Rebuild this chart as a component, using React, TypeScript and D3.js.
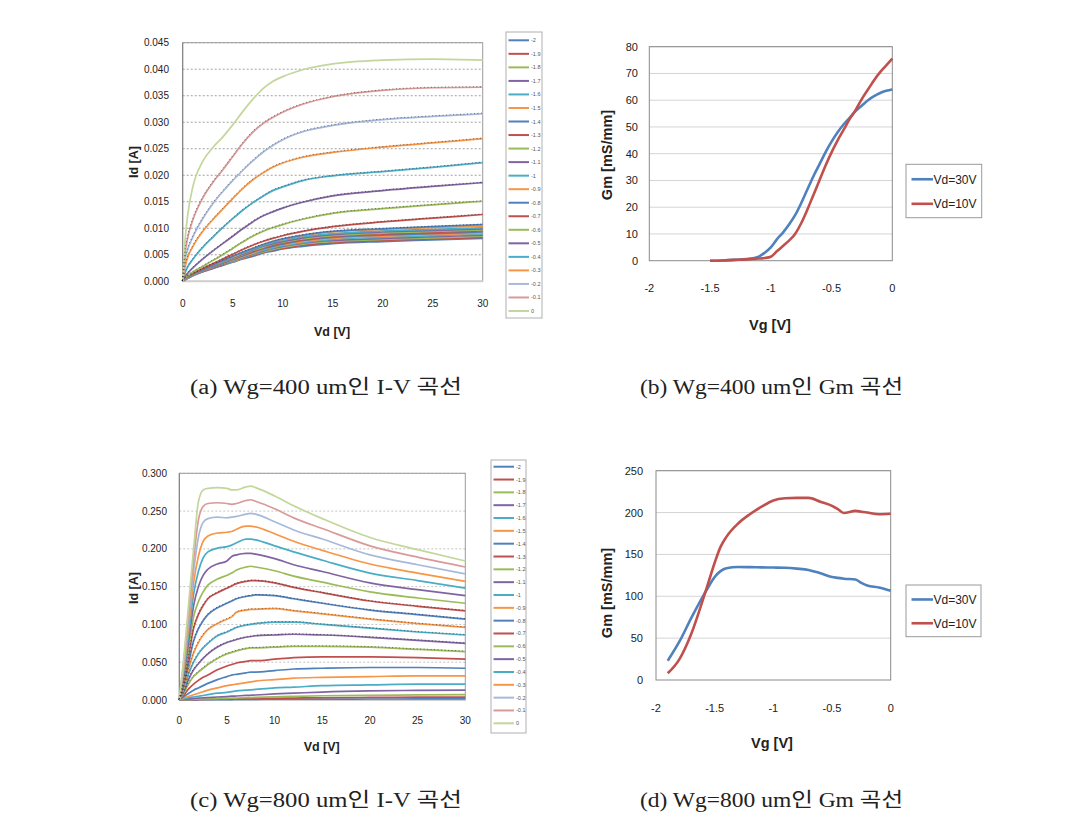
import React from 'react';
import * as d3 from 'd3';

// ---------------- data ----------------
const vgLabels = ['-2', '-1.9', '-1.8', '-1.7', '-1.6', '-1.5', '-1.4', '-1.3', '-1.2', '-1.1', '-1', '-0.9', '-0.8', '-0.7', '-0.6', '-0.5', '-0.4', '-0.3', '-0.2', '-0.1', '0'];
const ivColors = ['#4F81BD', '#C0504D', '#9BBB59', '#8064A2', '#4BACC6', '#F79646', '#4F81BD', '#C0504D', '#9BBB59', '#8064A2', '#4BACC6', '#F79646', '#4F81BD', '#C0504D', '#9BBB59', '#8064A2', '#4BACC6', '#F79646', '#A7B9DA', '#D99A98', '#C3D69B'];

// (a) Wg=400um I-V : Vd grid and Id per Vg (A)
const vdA = [0, 0.25, 0.5, 1, 2, 3, 4, 5, 6, 7, 8, 9, 10, 12, 15, 20, 25, 30];
const a_m20 = [0, 0.0003, 0.0006, 0.001, 0.0018, 0.0024, 0.003, 0.0036, 0.0042, 0.0047, 0.0053, 0.0057, 0.0061, 0.0066, 0.0071, 0.0075, 0.0078, 0.0081];
const a_m19 = [0, 0.0003, 0.0006, 0.0011, 0.0018, 0.0025, 0.0031, 0.0037, 0.0043, 0.0049, 0.0054, 0.0059, 0.0062, 0.0068, 0.0073, 0.0077, 0.008, 0.0083];
const a_m18 = [0, 0.0004, 0.0006, 0.0011, 0.0019, 0.0026, 0.0032, 0.0037, 0.0044, 0.005, 0.0055, 0.006, 0.0064, 0.007, 0.0075, 0.0079, 0.0082, 0.0085];
const a_m17 = [0, 0.0004, 0.0006, 0.0011, 0.0019, 0.0026, 0.0032, 0.0038, 0.0045, 0.0051, 0.0057, 0.0062, 0.0066, 0.0072, 0.0077, 0.0081, 0.0084, 0.0087];
const a_m16 = [0, 0.0004, 0.0006, 0.0011, 0.002, 0.0027, 0.0033, 0.0039, 0.0046, 0.0052, 0.0058, 0.0063, 0.0067, 0.0073, 0.0079, 0.0083, 0.0086, 0.0089];
const a_m15 = [0, 0.0004, 0.0007, 0.0012, 0.002, 0.0027, 0.0034, 0.004, 0.0047, 0.0053, 0.006, 0.0065, 0.0069, 0.0075, 0.0081, 0.0085, 0.0088, 0.0091];
const a_m14 = [0, 0.0004, 0.0007, 0.0012, 0.002, 0.0028, 0.0034, 0.0041, 0.0048, 0.0055, 0.0061, 0.0066, 0.007, 0.0077, 0.0083, 0.0087, 0.009, 0.0093];
const a_m13 = [0, 0.0004, 0.0007, 0.0012, 0.0021, 0.0028, 0.0035, 0.0042, 0.0049, 0.0056, 0.0063, 0.0068, 0.0072, 0.0078, 0.0085, 0.0089, 0.0092, 0.0095];
const a_m12 = [0, 0.0004, 0.0007, 0.0012, 0.0021, 0.0029, 0.0036, 0.0043, 0.005, 0.0058, 0.0064, 0.007, 0.0074, 0.008, 0.0086, 0.0091, 0.0094, 0.0097];
const a_m11 = [0, 0.0004, 0.0007, 0.0013, 0.0022, 0.0029, 0.0037, 0.0044, 0.0051, 0.0059, 0.0066, 0.0071, 0.0075, 0.0082, 0.0088, 0.0093, 0.0096, 0.0099];
const a_m10 = [0, 0.0004, 0.0008, 0.0013, 0.0022, 0.003, 0.0037, 0.0045, 0.0053, 0.006, 0.0067, 0.0073, 0.0077, 0.0084, 0.009, 0.0095, 0.0098, 0.0101];
const a_m09 = [0, 0.0004, 0.0008, 0.0013, 0.0023, 0.0031, 0.0039, 0.0046, 0.0054, 0.0062, 0.0069, 0.0075, 0.0079, 0.0086, 0.0093, 0.0098, 0.0101, 0.0104];
const a_m08 = [0, 0.0005, 0.0008, 0.0013, 0.0022, 0.0031, 0.0039, 0.0047, 0.0055, 0.0062, 0.0069, 0.0075, 0.008, 0.0087, 0.0094, 0.0099, 0.0103, 0.0107];
const a_m07 = [0, 0.0005, 0.0009, 0.0014, 0.0024, 0.0033, 0.0042, 0.0051, 0.006, 0.0068, 0.0075, 0.0081, 0.0086, 0.0094, 0.0103, 0.0112, 0.0119, 0.0126];
const a_m06 = [0, 0.0006, 0.001, 0.0017, 0.0028, 0.0039, 0.005, 0.0062, 0.0074, 0.0085, 0.0094, 0.0101, 0.0107, 0.0117, 0.0128, 0.0137, 0.0144, 0.0151];
const a_m05 = [0, 0.0009, 0.0015, 0.0025, 0.0042, 0.0057, 0.0071, 0.0085, 0.0099, 0.0112, 0.0123, 0.0131, 0.0138, 0.0149, 0.0161, 0.0171, 0.0179, 0.0186];
const a_m04 = [0, 0.0016, 0.0027, 0.0041, 0.0064, 0.0083, 0.0101, 0.0118, 0.0134, 0.0148, 0.016, 0.0171, 0.0178, 0.019, 0.0199, 0.0207, 0.0215, 0.0224];
const a_m03 = [0, 0.0028, 0.0045, 0.0065, 0.0094, 0.0116, 0.0136, 0.0156, 0.0175, 0.0191, 0.0204, 0.0215, 0.0223, 0.0234, 0.0243, 0.0253, 0.0261, 0.0269];
const a_m02 = [0, 0.0042, 0.006, 0.0083, 0.0118, 0.0146, 0.0169, 0.019, 0.0209, 0.0227, 0.0243, 0.0256, 0.0267, 0.0282, 0.0294, 0.0305, 0.0311, 0.0316];
const a_m01 = [0, 0.0055, 0.0082, 0.0115, 0.0157, 0.0186, 0.021, 0.0235, 0.026, 0.0281, 0.0297, 0.0309, 0.0319, 0.0334, 0.0348, 0.036, 0.0365, 0.0366];
const a_000 = [0, 0.008, 0.0125, 0.0177, 0.0226, 0.0252, 0.0272, 0.0295, 0.032, 0.0343, 0.0363, 0.0377, 0.0386, 0.0399, 0.041, 0.0417, 0.0419, 0.0417];
const idA = [a_m20, a_m19, a_m18, a_m17, a_m16, a_m15, a_m14, a_m13, a_m12, a_m11, a_m10, a_m09, a_m08, a_m07, a_m06, a_m05, a_m04, a_m03, a_m02, a_m01, a_000];
const yTicksA = [0, 0.005, 0.01, 0.015, 0.02, 0.025, 0.03, 0.035, 0.04, 0.045];
const xTicksIV = [0, 5, 10, 15, 20, 25, 30];

// (c) Wg=800um I-V
const vdC = [0, 0.5, 1, 1.5, 2, 2.5, 3, 4, 5, 5.5, 6, 7, 7.5, 8, 10, 12, 15, 20, 25, 30];
const c_m20 = [0, 0.0001, 0.0002, 0.0002, 0.0003, 0.0003, 0.0004, 0.0005, 0.0006, 0.0006, 0.0007, 0.0008, 0.0008, 0.0009, 0.001, 0.0011, 0.0012, 0.0013, 0.0014, 0.0015];
const c_m19 = [0, 0.0002, 0.0004, 0.0005, 0.0006, 0.0007, 0.0008, 0.001, 0.0012, 0.0013, 0.0014, 0.0016, 0.0017, 0.0018, 0.0022, 0.0026, 0.003, 0.0034, 0.0037, 0.0039];
const c_m18 = [0, 0.0004, 0.0007, 0.001, 0.0012, 0.0014, 0.0016, 0.0019, 0.0022, 0.0024, 0.0026, 0.003, 0.0032, 0.0034, 0.0041, 0.0048, 0.0056, 0.0063, 0.0067, 0.007];
const c_m17 = [0, 0.0008, 0.0015, 0.002, 0.0025, 0.003, 0.0033, 0.004, 0.0045, 0.005, 0.0053, 0.006, 0.0063, 0.0066, 0.008, 0.009, 0.0105, 0.012, 0.0127, 0.013];
const c_m16 = [0, 0.0015, 0.003, 0.004, 0.005, 0.006, 0.007, 0.009, 0.01, 0.011, 0.012, 0.013, 0.0135, 0.014, 0.016, 0.017, 0.019, 0.02, 0.021, 0.021];
const c_m15 = [0, 0.003, 0.005, 0.007, 0.009, 0.011, 0.013, 0.016, 0.019, 0.02, 0.021, 0.023, 0.024, 0.025, 0.027, 0.029, 0.03, 0.031, 0.032, 0.032];
const c_m14 = [0, 0.005, 0.009, 0.013, 0.016, 0.019, 0.022, 0.027, 0.031, 0.033, 0.034, 0.036, 0.037, 0.037, 0.039, 0.041, 0.042, 0.043, 0.043, 0.042];
const c_m13 = [0, 0.007, 0.015, 0.021, 0.026, 0.03, 0.033, 0.04, 0.045, 0.047, 0.049, 0.051, 0.052, 0.052, 0.054, 0.056, 0.057, 0.057, 0.056, 0.054];
const c_m12 = [0, 0.01, 0.022, 0.031, 0.037, 0.042, 0.047, 0.055, 0.061, 0.063, 0.065, 0.068, 0.069, 0.069, 0.07, 0.071, 0.071, 0.07, 0.067, 0.064];
const c_m11 = [0, 0.012, 0.028, 0.04, 0.048, 0.055, 0.061, 0.07, 0.076, 0.078, 0.08, 0.083, 0.084, 0.085, 0.086, 0.087, 0.086, 0.083, 0.079, 0.075];
const c_m10 = [0, 0.015, 0.035, 0.05, 0.061, 0.069, 0.075, 0.085, 0.09, 0.093, 0.096, 0.099, 0.1, 0.101, 0.103, 0.103, 0.1, 0.095, 0.09, 0.086];
const c_m09 = [0, 0.018, 0.042, 0.062, 0.076, 0.086, 0.093, 0.101, 0.107, 0.11, 0.116, 0.119, 0.12, 0.12, 0.121, 0.118, 0.114, 0.107, 0.101, 0.096];
const c_m08 = [0, 0.022, 0.05, 0.078, 0.094, 0.105, 0.113, 0.122, 0.128, 0.131, 0.134, 0.137, 0.138, 0.139, 0.138, 0.134, 0.128, 0.119, 0.113, 0.107];
const c_m07 = [0, 0.026, 0.06, 0.095, 0.113, 0.125, 0.134, 0.142, 0.148, 0.151, 0.154, 0.157, 0.158, 0.158, 0.155, 0.149, 0.142, 0.131, 0.124, 0.118];
const c_m06 = [0, 0.03, 0.07, 0.11, 0.13, 0.143, 0.152, 0.16, 0.165, 0.168, 0.172, 0.176, 0.177, 0.176, 0.171, 0.164, 0.156, 0.143, 0.135, 0.128];
const c_m05 = [0, 0.035, 0.08, 0.125, 0.15, 0.165, 0.173, 0.18, 0.184, 0.19, 0.192, 0.194, 0.194, 0.193, 0.187, 0.179, 0.17, 0.155, 0.146, 0.138];
const c_m04 = [0, 0.04, 0.09, 0.14, 0.17, 0.188, 0.196, 0.201, 0.203, 0.205, 0.208, 0.213, 0.213, 0.212, 0.204, 0.196, 0.185, 0.168, 0.158, 0.148];
const c_m03 = [0, 0.045, 0.1, 0.155, 0.19, 0.21, 0.217, 0.221, 0.222, 0.223, 0.226, 0.23, 0.23, 0.229, 0.22, 0.21, 0.198, 0.18, 0.168, 0.157];
const c_m02 = [0, 0.05, 0.11, 0.17, 0.215, 0.235, 0.24, 0.242, 0.241, 0.242, 0.243, 0.246, 0.247, 0.246, 0.236, 0.225, 0.213, 0.192, 0.179, 0.167];
const c_m01 = [0, 0.055, 0.12, 0.185, 0.238, 0.256, 0.26, 0.261, 0.26, 0.259, 0.26, 0.264, 0.265, 0.263, 0.253, 0.241, 0.227, 0.204, 0.189, 0.176];
const c_000 = [0, 0.06, 0.13, 0.2, 0.262, 0.278, 0.28, 0.281, 0.28, 0.278, 0.278, 0.282, 0.283, 0.281, 0.27, 0.257, 0.24, 0.215, 0.199, 0.184];
const idC = [c_m20, c_m19, c_m18, c_m17, c_m16, c_m15, c_m14, c_m13, c_m12, c_m11, c_m10, c_m09, c_m08, c_m07, c_m06, c_m05, c_m04, c_m03, c_m02, c_m01, c_000];
const yTicksC = [0, 0.05, 0.1, 0.15, 0.2, 0.25, 0.3];

// series (by index) that carry the thin black dotted overlay seen in the source
const overlayA = [12, 13, 14, 15, 16, 17, 18, 19];
const overlayC = [8, 9, 10, 11, 12, 13];

// (b) Wg=400um Gm
const vgB = [-1.5, -1.4, -1.3, -1.2, -1.1, -1.05, -1.0, -0.95, -0.9, -0.85, -0.8, -0.75, -0.7, -0.65, -0.6, -0.55, -0.5, -0.45, -0.4, -0.35, -0.3, -0.25, -0.2, -0.15, -0.1, -0.05, 0];
const gm30B = [0, 0.1, 0.3, 0.6, 1.5, 3, 5, 8, 10.5, 13.5, 17, 21.5, 26.5, 31.5, 36, 40.5, 44.5, 48, 51, 53.5, 56, 58, 60, 61.5, 62.7, 63.5, 64];
const gm10B = [0, 0.1, 0.3, 0.5, 0.8, 1, 1.5, 3.5, 5.5, 7.5, 10, 14, 19, 24.5, 30, 35.5, 40.5, 45, 49, 53, 56.5, 60.5, 64, 67.5, 70.5, 73, 75.5];
const yTicksB = [0, 10, 20, 30, 40, 50, 60, 70, 80];

// (d) Wg=800um Gm
const vgD = [-1.9, -1.8, -1.7, -1.6, -1.55, -1.5, -1.45, -1.4, -1.3, -1.2, -1.1, -1.0, -0.9, -0.8, -0.7, -0.6, -0.5, -0.45, -0.4, -0.3, -0.25, -0.2, -0.1, 0];
const gm30D = [23, 46, 74, 100, 112, 123, 130, 133.5, 135, 134.8, 134.5, 134.3, 134, 133, 131.5, 127.5, 123, 122, 121, 120, 116, 113, 110.5, 106.5];
const gm10D = [8, 25, 55, 96, 118, 140, 159, 171, 187, 198, 207, 214.5, 217, 217.5, 217.5, 213, 208, 204, 199.5, 202, 201, 200, 198, 198.5];
const yTicksD = [0, 50, 100, 150, 200, 250];

const xTicksGm = [-2, -1.5, -1, -0.5, 0];
const gmLegend = ['Vd=30V', 'Vd=10V'];
const gmColors = ['#4F81BD', '#C0504D'];

const captions = ['(a) Wg=400 um인 I-V 곡선', '(b) Wg=400 um인 Gm 곡선', '(c) Wg=800 um인 I-V 곡선', '(d) Wg=800 um인 Gm 곡선'];

// ---------------- drawing ----------------
const SANS = "'Liberation Sans', Arial, sans-serif";
const SERIF = "'Liberation Serif', 'Noto Sans CJK KR', serif";

type Box = { x0: number; x1: number; y0: number; y1: number };

function IVPanel(p: {
  plot: Box; yMax: number; yTicks: number[]; fmt: string; vd: number[]; data: number[][]; overlay: number[];
  legend: Box; legFirst: number; legLast: number; xTitle: [number, number]; yTitle: [number, number];
  labelX: number; tickY: number; gridColor: string;
}) {
  const x = d3.scaleLinear().domain([0, 30]).range([p.plot.x0, p.plot.x1]);
  const y = d3.scaleLinear().domain([0, p.yMax]).range([p.plot.y1, p.plot.y0]);
  const f = d3.format(p.fmt);
  const legY = d3.scaleLinear().domain([0, 20]).range([p.legFirst, p.legLast]);
  const line = d3.line<number>().x((_, i) => x(p.vd[i])).y((v) => y(v)).curve(d3.curveMonotoneX);
  return (
    <g>
      {p.yTicks.slice(1).map((t) => (
        <line key={t} x1={p.plot.x0} x2={p.plot.x1} y1={y(t)} y2={y(t)} stroke={p.gridColor} strokeWidth={1} strokeDasharray="2,2" />
      ))}
      <rect x={p.plot.x0} y={p.plot.y0} width={p.plot.x1 - p.plot.x0} height={p.plot.y1 - p.plot.y0} fill="none" stroke="#9a9a9a" strokeWidth={1} />
      <line x1={p.plot.x0} x2={p.plot.x1} y1={p.plot.y1} y2={p.plot.y1} stroke="#d0d0d0" strokeWidth={2} />
      <line x1={p.plot.x0} x2={p.plot.x0} y1={p.plot.y0} y2={p.plot.y1} stroke="#808080" strokeWidth={1} />
      {p.data.map((s, i) => (
        <path key={i} d={line(s) || ''} fill="none" stroke={ivColors[i]} strokeWidth={1.7} />
      ))}
      {p.overlay.map((i) => (
        <path key={'o' + i} d={line(p.data[i]) || ''} fill="none" stroke="#111" strokeWidth={0.7} strokeDasharray="1,2.5" opacity={0.75} transform="translate(-0.4,-0.6)" />
      ))}
      {p.yTicks.map((t) => (
        <text key={t} x={p.labelX} y={y(t) + 3.5} textAnchor="end" fontFamily={SANS} fontSize={10} fill="#222">{f(t)}</text>
      ))}
      {xTicksIV.map((t) => (
        <text key={t} x={x(t)} y={p.tickY} textAnchor="middle" fontFamily={SANS} fontSize={10} fill="#222">{t}</text>
      ))}
      <text x={p.xTitle[0]} y={p.xTitle[1]} textAnchor="middle" fontFamily={SANS} fontSize={12.5} fontWeight="bold" fill="#222">Vd [V]</text>
      <text transform={`translate(${p.yTitle[0]},${p.yTitle[1]}) rotate(-90)`} textAnchor="middle" fontFamily={SANS} fontSize={12.5} fontWeight="bold" fill="#222">Id [A]</text>
      <rect x={p.legend.x0} y={p.legend.y0} width={p.legend.x1 - p.legend.x0} height={p.legend.y1 - p.legend.y0} fill="#fff" stroke="#b0b0b0" strokeWidth={1} />
      {vgLabels.map((l, i) => (
        <g key={l}>
          <line x1={p.legend.x0 + 2.5} x2={p.legend.x0 + 23} y1={legY(i)} y2={legY(i)} stroke={ivColors[i]} strokeWidth={2} />
          <text x={p.legend.x0 + 25} y={legY(i) + 2} fontFamily={SANS} fontSize={5.5} fill="#555">{l}</text>
        </g>
      ))}
    </g>
  );
}

function GmPanel(p: {
  plot: Box; yMax: number; yTicks: number[]; vg: number[]; s30: number[]; s10: number[];
  legend: Box; labelX: number; tickY: number; xTitle: [number, number]; yTitle: [number, number];
}) {
  const x = d3.scaleLinear().domain([-2, 0]).range([p.plot.x0, p.plot.x1]);
  const y = d3.scaleLinear().domain([0, p.yMax]).range([p.plot.y1, p.plot.y0]);
  const line = d3.line<number>().x((_, i) => x(p.vg[i])).y((v) => y(v)).curve(d3.curveMonotoneX);
  const lh = (p.legend.y1 - p.legend.y0);
  const ly = [p.legend.y0 + lh * 0.28, p.legend.y0 + lh * 0.74];
  return (
    <g>
      {p.yTicks.slice(1).map((t) => (
        <line key={t} x1={p.plot.x0} x2={p.plot.x1} y1={y(t)} y2={y(t)} stroke="#d4d4d4" strokeWidth={1} />
      ))}
      <rect x={p.plot.x0} y={p.plot.y0} width={p.plot.x1 - p.plot.x0} height={p.plot.y1 - p.plot.y0} fill="none" stroke="#8a8a8a" strokeWidth={1} />
      <path d={line(p.s30) || ''} fill="none" stroke={gmColors[0]} strokeWidth={2.6} strokeLinejoin="round" />
      <path d={line(p.s10) || ''} fill="none" stroke={gmColors[1]} strokeWidth={2.6} strokeLinejoin="round" />
      {p.yTicks.map((t) => (
        <text key={t} x={p.labelX} y={y(t) + 4} textAnchor="end" fontFamily={SANS} fontSize={11} fill="#222">{t}</text>
      ))}
      {xTicksGm.map((t) => (
        <text key={t} x={x(t)} y={p.tickY} textAnchor="middle" fontFamily={SANS} fontSize={11} fill="#222">{t}</text>
      ))}
      <text x={p.xTitle[0]} y={p.xTitle[1]} textAnchor="middle" fontFamily={SANS} fontSize={14.5} fontWeight="bold" fill="#222">Vg [V]</text>
      <text transform={`translate(${p.yTitle[0]},${p.yTitle[1]}) rotate(-90)`} textAnchor="middle" fontFamily={SANS} fontSize={14.5} fontWeight="bold" fill="#222">Gm [mS/mm]</text>
      <rect x={p.legend.x0} y={p.legend.y0} width={p.legend.x1 - p.legend.x0} height={lh} fill="#fff" stroke="#9a9a9a" strokeWidth={1} />
      {gmLegend.map((l, i) => (
        <g key={l}>
          <line x1={p.legend.x0 + 5.5} x2={p.legend.x0 + 27} y1={ly[i]} y2={ly[i]} stroke={gmColors[i]} strokeWidth={2.6} />
          <text x={p.legend.x0 + 27.5} y={ly[i] + 4.3} fontFamily={SANS} fontSize={12} fill="#222">{l}</text>
        </g>
      ))}
    </g>
  );
}

export default function App() {
  return (
    <svg width={1075} height={827} style={{ position: 'absolute', left: 0, top: 0, background: '#fff' }}>
      <rect x={0} y={0} width={1075} height={827} fill="#fff" />
      <IVPanel plot={{ x0: 182.7, x1: 482.7, y0: 42.7, y1: 281.3 }} yMax={0.045} yTicks={yTicksA} fmt=".3f" vd={vdA} data={idA} overlay={overlayA}
        legend={{ x0: 506, x1: 542, y0: 32, y1: 318 }} legFirst={40.3} legLast={311}
        xTitle={[332, 336]} yTitle={[138, 162]} labelX={169} tickY={307} gridColor="#a0a0a0" />
      <IVPanel plot={{ x0: 179.3, x1: 465.3, y0: 473.3, y1: 700 }} yMax={0.3} yTicks={yTicksC} fmt=".3f" vd={vdC} data={idC} overlay={overlayC}
        legend={{ x0: 491, x1: 526, y0: 460, y1: 733 }} legFirst={466.7} legLast={723.3}
        xTitle={[321.7, 751]} yTitle={[138, 588]} labelX={167} tickY={724} gridColor="#c4c4c4" />
      <GmPanel plot={{ x0: 649.3, x1: 892.3, y0: 46.7, y1: 260.7 }} yMax={80} yTicks={yTicksB} vg={vgB} s30={gm30B} s10={gm10B}
        legend={{ x0: 906, x1: 981.7, y0: 164.3, y1: 217.7 }} labelX={638} tickY={292} xTitle={[770, 330]} yTitle={[612, 155]} />
      <GmPanel plot={{ x0: 656, x1: 890.7, y0: 470.7, y1: 680 }} yMax={250} yTicks={yTicksD} vg={vgD} s30={gm30D} s10={gm10D}
        legend={{ x0: 906, x1: 981, y0: 585, y1: 636.7 }} labelX={643} tickY={712} xTitle={[772, 748]} yTitle={[612, 593]} />
      {captions.map((c, i) => (
        <text key={c} x={i % 2 === 0 ? 190 : 640} y={i < 2 ? 394 : 807} fontFamily={SERIF} fontSize={20} fill="#222"
          textLength={i % 2 === 0 ? 272 : 263} lengthAdjust="spacingAndGlyphs">{c}</text>
      ))}
    </svg>
  );
}
